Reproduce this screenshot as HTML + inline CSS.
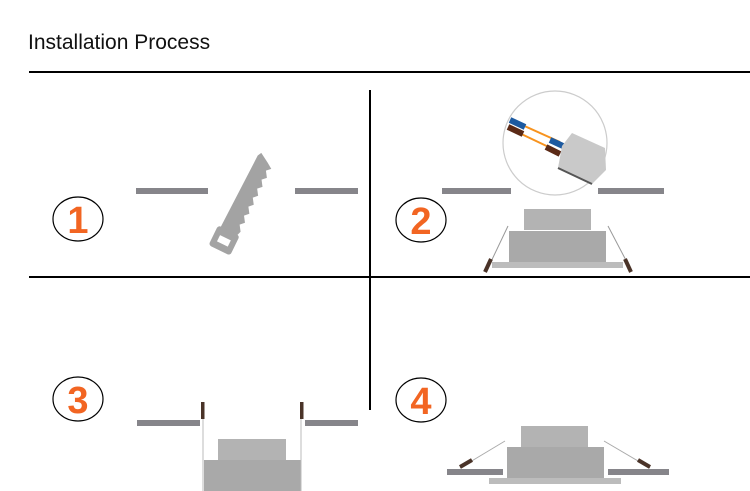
<!DOCTYPE html>
<html><head><style>
body{margin:0;background:#fff;width:750px;height:491px;overflow:hidden;position:relative;font-family:"Liberation Sans",sans-serif}
.t{position:absolute;left:28px;top:31px;font-size:21px;color:#111}
</style></head><body>
<div class="t">Installation Process</div>
<svg width="750" height="491" style="position:absolute;left:0;top:0">
<line x1="29" y1="72" x2="750" y2="72" stroke="#000" stroke-width="2"/>
<line x1="29" y1="277" x2="750" y2="277" stroke="#000" stroke-width="2"/>
<line x1="370" y1="90" x2="370" y2="410" stroke="#000" stroke-width="2"/>
<g fill="none" stroke="#000" stroke-width="1.2">
<ellipse cx="78" cy="219" rx="25" ry="22"/>
<ellipse cx="421" cy="220" rx="25" ry="22"/>
<ellipse cx="78" cy="399" rx="25" ry="22"/>
<ellipse cx="421" cy="400" rx="25" ry="22"/>
</g>
<g fill="#f26522" font-family="Liberation Sans,sans-serif" font-weight="bold" font-size="38" text-anchor="middle">
<text x="78" y="233">1</text><text x="421" y="234">2</text><text x="78" y="413">3</text><text x="421" y="414">4</text>
</g>
<g fill="#86858a">
<rect x="136" y="188" width="72" height="6"/><rect x="295" y="188" width="63" height="6"/>
<rect x="442" y="188" width="69" height="6"/><rect x="598" y="188" width="66" height="6"/>
<rect x="137" y="420" width="63" height="6"/><rect x="305" y="420" width="53" height="6"/>
<rect x="447" y="469" width="56" height="6"/><rect x="608" y="469" width="61" height="6"/>
</g>
<!-- saw -->
<g transform="translate(243,204) rotate(26)" fill="#a3a3a3">
<polygon points="-6,-54 4,-48 10,-44 6,-40 10,-34 6,-30 10,-24 6,-20 10,-14 6,-10 10,-4 6,0 10,6 6,10 10,16 6,20 10,26 8,32 -10,32 -8,-50"/>
<rect x="-13" y="30" width="24" height="22" rx="3"/>
<rect x="-7" y="38" width="12" height="7" fill="#fff"/>
</g>
<!-- wire circle -->
<circle cx="555" cy="143" r="52" fill="#fff" stroke="#ccc" stroke-width="1.2"/>
<line x1="520" y1="124" x2="560" y2="142" stroke="#f7931e" stroke-width="2"/>
<line x1="515" y1="131" x2="555" y2="150" stroke="#f7931e" stroke-width="2"/>
<line x1="510" y1="120" x2="525" y2="127" stroke="#1d5aa0" stroke-width="6"/>
<line x1="508" y1="127" x2="523" y2="134" stroke="#5b2a16" stroke-width="6"/>
<line x1="550" y1="140" x2="563" y2="146" stroke="#1d5aa0" stroke-width="6"/>
<line x1="546" y1="147" x2="560" y2="154" stroke="#5b2a16" stroke-width="6"/>
<polygon fill="#c9c9c9" points="572,133 605,148 606,170 592,184 558,168 562,146"/>
<line x1="558" y1="168" x2="592" y2="184" stroke="#555" stroke-width="2"/>
<!-- lamp 2 -->
<g fill="#a9a9a9"><rect x="524" y="209" width="67" height="21" fill="#b3b3b3"/><rect x="509" y="231" width="97" height="31"/><rect x="492" y="262" width="131" height="6" fill="#bcbcbc"/></g>
<line x1="508" y1="226" x2="488" y2="268" stroke="#999"/><line x1="608" y1="226" x2="630" y2="268" stroke="#999"/>
<line x1="491" y1="259" x2="485" y2="272" stroke="#4a3328" stroke-width="4"/>
<line x1="625" y1="259" x2="631" y2="272" stroke="#4a3328" stroke-width="4"/>
<!-- lamp 3 -->
<g><rect x="218" y="439" width="68" height="21" fill="#b3b3b3"/><rect x="204" y="460" width="97" height="31" fill="#a9a9a9"/></g>
<line x1="203" y1="418" x2="203" y2="491" stroke="#bbb"/><line x1="301" y1="418" x2="301" y2="491" stroke="#bbb"/>
<rect x="201" y="402" width="3.5" height="17" fill="#4a3328"/><rect x="300" y="402" width="3.5" height="17" fill="#4a3328"/>
<!-- lamp 4 -->
<g><rect x="521" y="426" width="67" height="21" fill="#b3b3b3"/><rect x="507" y="447" width="97" height="31" fill="#a9a9a9"/><rect x="489" y="478" width="132" height="6" fill="#bcbcbc"/></g>
<line x1="505" y1="441" x2="460" y2="468" stroke="#aaa"/><line x1="604" y1="441" x2="650" y2="468" stroke="#aaa"/>
<line x1="460" y1="467" x2="472" y2="460" stroke="#4a3328" stroke-width="4"/>
<line x1="638" y1="460" x2="650" y2="467" stroke="#4a3328" stroke-width="4"/>
</svg>
</body></html>
